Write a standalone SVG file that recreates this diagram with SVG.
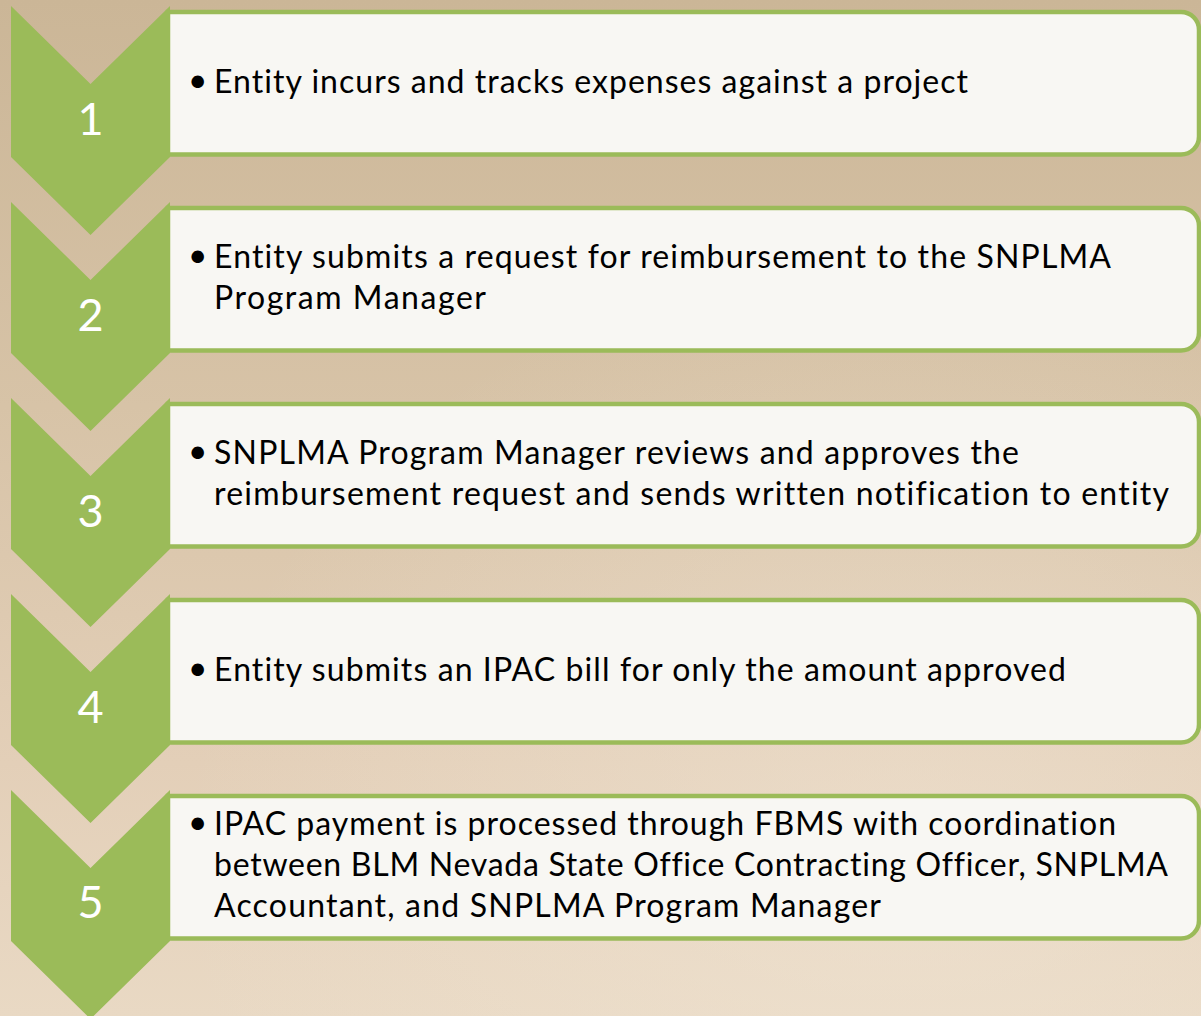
<svg xmlns="http://www.w3.org/2000/svg" width="1201" height="1016" viewBox="0 0 1201 1016">
  <defs>
    <linearGradient id="bg" x1="0" y1="0" x2="0" y2="1">
      <stop offset="0" stop-color="#cbb697"/>
      <stop offset="0.4" stop-color="#d7c3a7"/>
      <stop offset="0.75" stop-color="#e3cfb8"/>
      <stop offset="1" stop-color="#e9d9c4"/>
    </linearGradient>
    <radialGradient id="glow" cx="0.75" cy="0.85" r="0.6">
      <stop offset="0" stop-color="#f1e6d6" stop-opacity="0.5"/>
      <stop offset="1" stop-color="#f1e6d6" stop-opacity="0"/>
    </radialGradient>
    <!-- chevron shape, local origin at its top-left corner -->
    <path id="chev" d="M11,0 L90.5,78 L170,0 L170,151 L90.5,229 L11,151 Z"/>
    <!-- text panel: square on the left, rounded on the right -->
    <path id="panel" d="M168,0 H1181 A18,18 0 0 1 1199,18 V124.5 A18,18 0 0 1 1181,142.5 H168 Z"/>
  </defs>
  <style>
    .chev { fill: #9bbb59; }
    .panel { fill: #f8f7f3; stroke: #9bbb59; stroke-width: 4.5; }
    .num { font-family: Lato, "Open Sans", sans-serif; font-size: 45px; fill: #ffffff; text-anchor: middle; }
    .txt { font-family: Lato, "Open Sans", sans-serif; font-size: 32px; fill: #000000; font-variant-ligatures: none; }
    .bul { font-family: "DejaVu Sans", sans-serif; font-size: 43px; fill: #000000; }
  </style>

  <rect width="1201" height="1016" fill="url(#bg)"/>
  <rect width="1201" height="1016" fill="url(#glow)"/>

  <g id="connectors"/>

  <g id="step1">
    <use href="#panel" class="panel" y="12"/>
    <use href="#chev" class="chev" y="6"/>
    <text class="num" x="90.5" y="135">1</text>
    <text class="bul" x="185" y="98">•</text>
    <text class="txt" x="214" y="93" textLength="754">Entity incurs and tracks expenses against a project</text>
  </g>

  <g id="step2">
    <use href="#panel" class="panel" y="208"/>
    <use href="#chev" class="chev" y="202"/>
    <text class="num" x="90.5" y="331">2</text>
    <text class="bul" x="185" y="273">•</text>
    <text class="txt" x="214" y="268" textLength="897">Entity submits a request for reimbursement to the SNPLMA</text>
    <text class="txt" x="214" y="309" textLength="272">Program Manager</text>
  </g>

  <g id="step3">
    <use href="#panel" class="panel" y="404"/>
    <use href="#chev" class="chev" y="398"/>
    <text class="num" x="90.5" y="527">3</text>
    <text class="bul" x="185" y="469">•</text>
    <text class="txt" x="214" y="464" textLength="805">SNPLMA Program Manager reviews and approves the</text>
    <text class="txt" x="214" y="505" textLength="955">reimbursement request and sends written notification to entity</text>
  </g>

  <g id="step4">
    <use href="#panel" class="panel" y="600"/>
    <use href="#chev" class="chev" y="594"/>
    <text class="num" x="90.5" y="723">4</text>
    <text class="bul" x="185" y="686">•</text>
    <text class="txt" x="214" y="681" textLength="852">Entity submits an IPAC bill for only the amount approved</text>
  </g>

  <g id="step5">
    <use href="#panel" class="panel" y="796"/>
    <use href="#chev" class="chev" y="790"/>
    <text class="num" x="90.5" y="918">5</text>
    <text class="bul" x="185" y="840">•</text>
    <text class="txt" x="214" y="835" textLength="902">IPAC payment is processed through FBMS with coordination</text>
    <text class="txt" x="214" y="876" textLength="954">between BLM Nevada State Office Contracting Officer, SNPLMA</text>
    <text class="txt" x="214" y="917" textLength="667">Accountant, and SNPLMA Program Manager</text>
  </g>
</svg>
